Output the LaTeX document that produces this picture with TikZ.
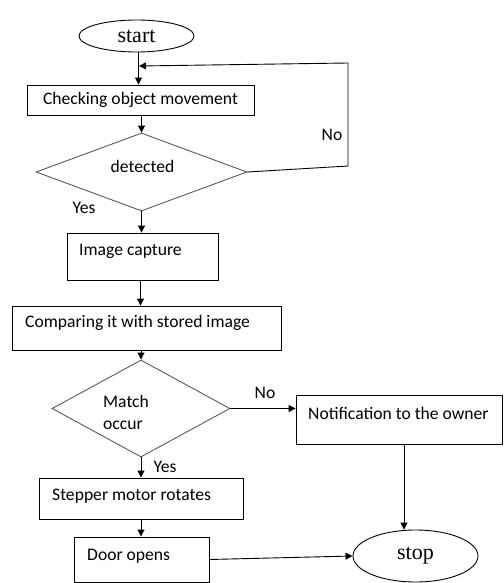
\documentclass[tikz,border=0pt]{standalone}
\usepackage{fontspec}
\setmainfont{Carlito}
\newfontfamily\serifA{Liberation Serif}
\usetikzlibrary{shapes.geometric,arrows.meta}
\begin{document}
\begin{tikzpicture}[x=1pt,y=-1pt,
  box/.style={draw=black, line width=0.9pt, rectangle, inner sep=0pt, font=\fontsize{17.6}{22}\selectfont},
  dia/.style={draw=black!65, line width=0.9pt, diamond, inner sep=0pt},
  oval/.style={draw=black, line width=0.9pt, ellipse, inner sep=0pt, font=\serifA\fontsize{22}{26}\selectfont},
  txt/.style={inner sep=0pt, anchor=west, font=\fontsize{17.6}{22}\selectfont},
  arr/.style={line width=0.9pt, -{Triangle[length=7pt,width=7pt]}}]
\useasboundingbox (0,0) rectangle (503,583);

\node[oval, minimum width=115, minimum height=32] (start) at (136.5,36) {start};
\node[box, minimum width=227, minimum height=30] (chk) at (140.5,100) {Checking object movement};
\node[dia, minimum width=211, minimum height=78] (det) at (141.5,172) {};
\node[txt, anchor=center] (tdet) at (142.5,166) {detected};
\node[box, minimum width=151, minimum height=47] (img) at (142.5,256.5) {};
\node[txt] (timg) at (79,251) {Image capture};
\node[box, minimum width=269, minimum height=44] (cmp) at (146.5,328) {};
\node[txt] (tcmp) at (25,323) {Comparing it with stored image};
\node[dia, minimum width=178, minimum height=97] (match) at (141,408.5) {};
\node[txt] (tmatchA) at (103,401) {Match};
\node[txt] (tmatchB) at (103,425) {occur};
\node[box, minimum width=206, minimum height=49] (notif) at (399,419.5) {};
\node[txt] (tnotif) at (308,413) {Notification to the owner};
\node[box, minimum width=204, minimum height=41] (step) at (141,498.5) {};
\node[txt] (tstep) at (52,496) {Stepper motor rotates};
\node[box, minimum width=135, minimum height=45] (door) at (141.5,559.5) {};
\node[txt] (tdoor) at (87,556) {Door opens};
\node[oval, minimum width=125, minimum height=52] (stop) at (415.5,556) {stop};

\node[txt, anchor=center] (noA) at (332,135) {No};
\node[txt, anchor=center] (yesA) at (84,208) {Yes};
\node[txt, anchor=center] (noB) at (265,393) {No};
\node[txt, anchor=center] (yesB) at (165,467) {Yes};

\coordinate (fbA) at (348,166);
\coordinate (fbB) at (348,63);
\coordinate (fbC) at (139,66);

\draw[arr] ([xshift=2pt]start.south) -- ([xshift=2pt]start.south |- chk.north);
\draw[arr] (det.east) -- (fbA) -- (fbB) -- (fbC);
\draw[arr] (det.north |- chk.south) -- (det.north);
\draw[arr] (det.south) -- (det.south |- img.north);
\draw[arr] ([xshift=-2pt]img.south) -- ([xshift=-2pt]img.south |- cmp.north);
\draw[arr] (cmp.south -| match.north) -- (match.north);
\draw[arr] (match.east) -- (match.east -| notif.west);
\draw[arr] (match.south) -- (match.south |- step.north);
\draw[arr] (step.south) -- (step.south |- door.north);
\draw[arr] (door.east) -- (stop.west);
\draw[arr] ([xshift=5pt]notif.south) -- ([xshift=5pt]notif.south |- stop.north);
\end{tikzpicture}
\end{document}
